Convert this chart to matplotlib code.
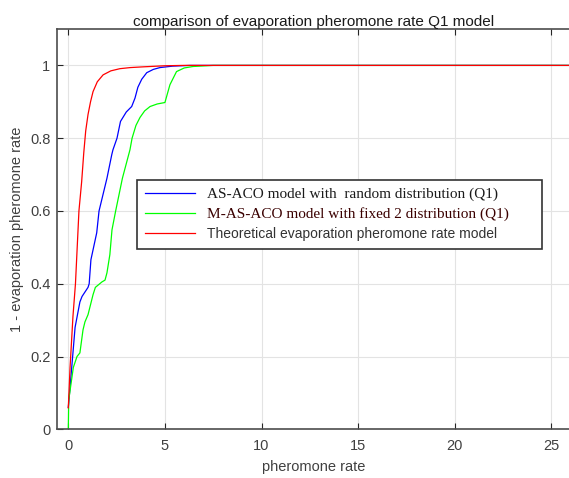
import numpy as np
import matplotlib.pyplot as plt

# values
x_red = [0, 0.09, 0.24, 0.37, 0.55, 0.69, 0.8, 0.9, 1.02, 1.15, 1.28, 1.5, 1.8, 2.2, 2.67, 3.2, 3.86,
         5.0, 6.0, 26]
y_red = [0.059, 0.17, 0.31, 0.40, 0.60, 0.68, 0.76, 0.82, 0.865, 0.90, 0.928, 0.955, 0.974, 0.985,
         0.991, 0.994, 0.996, 0.999, 1.0, 1.0]

x_blue = [0, 0.24, 0.35, 0.6, 0.71, 1.02, 1.08, 1.17, 1.47, 1.59, 2.0, 2.25, 2.31, 2.52, 2.7,
          3.0, 3.28, 3.45, 3.6, 3.8, 4.06, 4.4, 4.74, 5.4, 6.3, 26]
y_blue = [0.06, 0.21, 0.28, 0.35, 0.365, 0.39, 0.40, 0.466, 0.54, 0.60, 0.69, 0.755, 0.768, 0.80, 0.846,
          0.872, 0.887, 0.91, 0.94, 0.962, 0.98, 0.989, 0.994, 0.998, 1.0, 1.0]

x_green = [0, 0.02, 0.26, 0.45, 0.6, 0.76, 0.86, 1.02, 1.28, 1.4, 1.74, 1.9, 2.0, 2.15, 2.26,
           2.45, 2.8, 3.19, 3.3, 3.5, 3.71, 3.95, 4.23, 4.6, 5.0, 5.26, 5.6, 6.0, 6.45, 7.5, 26]
y_green = [0.0, 0.08, 0.17, 0.20, 0.21, 0.273, 0.295, 0.315, 0.37, 0.39, 0.405, 0.41, 0.43, 0.48, 0.548,
           0.60, 0.69, 0.768, 0.80, 0.835, 0.857, 0.875, 0.887, 0.894, 0.898, 0.947, 0.983, 0.993,
           0.997, 1.0, 1.0]

labels = ['AS-ACO model with  random distribution (Q1)',
          'M-AS-ACO model with fixed 2 distribution (Q1)',
          'Theoretical evaporation pheromone rate model']

plt.rcParams['font.family'] = ['Liberation Sans', 'DejaVu Sans']

fig = plt.figure(figsize=(5.69, 4.78), dpi=100)
ax = fig.add_axes([0.1007, 0.1019, 0.9023, 0.8374])

ax.plot(x_blue, y_blue, color='#0000ff', lw=0.9, label=labels[0])
ax.plot(x_green, y_green, color='#00ff00', lw=0.9, label=labels[1])
ax.plot(x_red, y_red, color='#ff0000', lw=0.9, label=labels[2])

ax.set_xlim(-0.57, 26)
ax.set_ylim(0, 1.1)
ax.set_xticks([0, 5, 10, 15, 20, 25])
ax.set_yticks([0, 0.2, 0.4, 0.6, 0.8, 1])
ax.set_yticklabels(['0', '0.2', '0.4', '0.6', '0.8', '1'])
ax.grid(True, color='#e3e3e3', lw=0.8)
ax.set_axisbelow(True)
ax.tick_params(direction='in', top=True, right=False, length=4, width=0.8,
               colors='#262626', labelcolor='#404040', labelsize=10.5)
ax.tick_params(axis='x', pad=7)
ax.tick_params(axis='y', pad=5)
for s in ['left', 'bottom', 'top']:
    ax.spines[s].set_color('#4d4d4d')
    ax.spines[s].set_linewidth(1.2)
ax.spines['right'].set_visible(False)

ax.set_title('comparison of evaporation pheromone rate Q1 model', fontsize=11, pad=2, color='#1a1a1a')
ax.set_xlabel('pheromone rate', fontsize=10.5, color='#404040', labelpad=5)
ax.set_ylabel('1 - evaporation pheromone rate', fontsize=10.5, color='#404040', labelpad=4)

# fixed-width legend box, as in the reference
leg = ax.legend(loc='upper left', bbox_to_anchor=(0.1557, 0.448, 0.788, 0.175), mode='expand',
                borderaxespad=0, fancybox=False,
                edgecolor='#333333', framealpha=1, handlelength=3.4, handletextpad=0.8,
                borderpad=0.55, labelspacing=0.4, fontsize=10.5)
leg.get_frame().set_linewidth(1.2)
texts = leg.get_texts()
texts[0].set_family(['Liberation Serif', 'DejaVu Serif'])
texts[1].set_family(['Liberation Serif', 'DejaVu Serif'])
texts[0].set_fontsize(11)
texts[1].set_fontsize(11)
texts[2].set_fontsize(10)
texts[0].set_color('#1a1a1a')
texts[1].set_color('#3a0000')
texts[2].set_color('#333333')

fig.savefig('out.png', dpi=100)
